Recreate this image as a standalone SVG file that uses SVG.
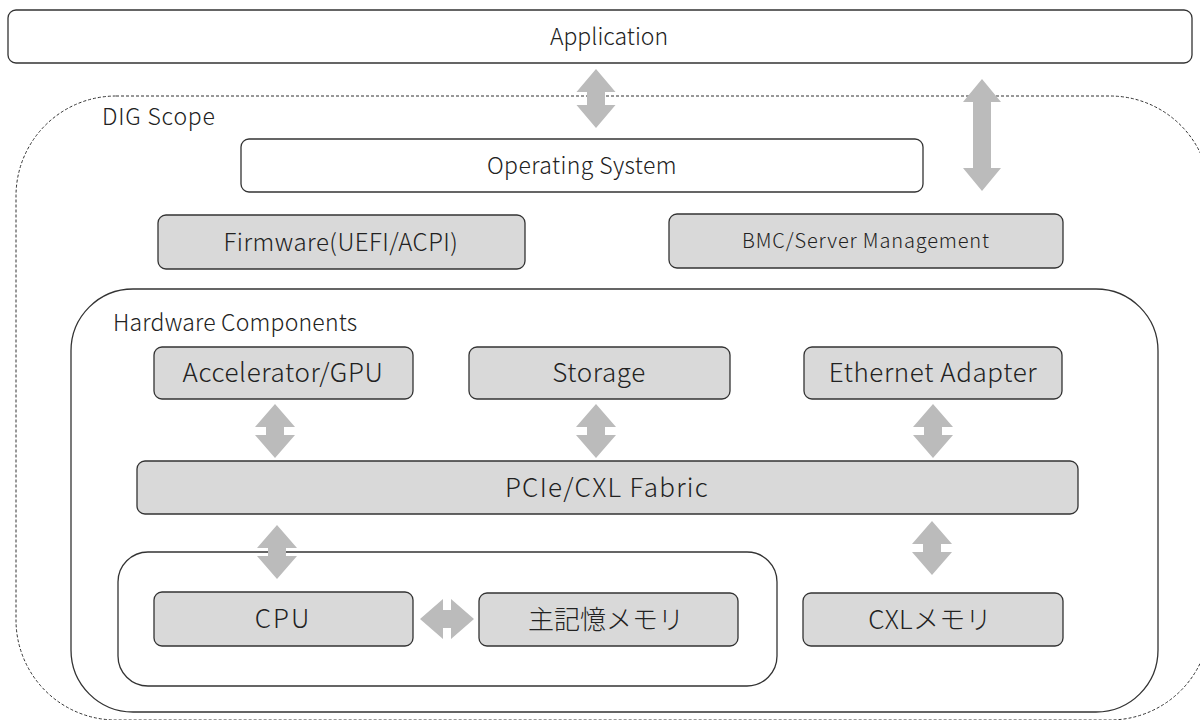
<svg xmlns="http://www.w3.org/2000/svg" width="1200" height="720" viewBox="0 0 1200 720">
<defs>
<style>
.box{fill:#d9d9d9;stroke:#333;stroke-width:1.3}
.wbox{fill:#fff;stroke:#333;stroke-width:1.3}
.frame{fill:none;stroke:#333;stroke-width:1.3}
.dash{fill:none;stroke:#333;stroke-width:1;stroke-dasharray:3 2}
.arrow{fill:#bbbbbb;stroke:none}
text{font-family:"Noto Sans CJK JP","Noto Sans",sans-serif;font-size:23px;font-weight:300;fill:#222}
.c{text-anchor:middle}
.s{font-size:20px;letter-spacing:0.85px}
.m{font-size:24px;letter-spacing:0.5px}
.L{font-size:26px;letter-spacing:0.6px}
</style>
</defs>
<rect width="1200" height="720" fill="#fff"/>
<g id="dig-scope">
<rect class="dash" x="16" y="96" width="1194" height="624" rx="100" ry="100"/>
<text x="102" y="125" style="letter-spacing:0.8px">DIG Scope</text>
</g>
<g id="application">
<rect class="wbox" x="8" y="10" width="1184" height="53" rx="8"/>
<text class="c" x="609" y="45">Application</text>
</g>
<g id="os">
<rect class="wbox" x="241" y="139" width="682" height="53" rx="8"/>
<text class="c" x="582" y="174" style="letter-spacing:0.4px">Operating System</text>
</g>
<g id="firmware">
<rect class="box" x="158" y="215" width="367" height="54" rx="8"/>
<text class="c m" x="341" y="251">Firmware(UEFI/ACPI)</text>
</g>
<g id="bmc">
<rect class="box" x="669" y="214" width="394" height="54" rx="8"/>
<text class="c s" x="866" y="248">BMC/Server Management</text>
</g>
<g id="hardware-components">
<rect class="frame" x="71" y="289" width="1087" height="423" rx="62" ry="62"/>
<text x="113" y="331" style="letter-spacing:0.2px">Hardware Components</text>
</g>
<g id="accelerator">
<rect class="box" x="154" y="347" width="259" height="52" rx="8"/>
<text class="c L" x="283" y="382">Accelerator/GPU</text>
</g>
<g id="storage">
<rect class="box" x="469" y="347" width="261" height="52" rx="8"/>
<text class="c L" x="599" y="382">Storage</text>
</g>
<g id="ethernet">
<rect class="box" x="804" y="347" width="258" height="52" rx="8"/>
<text class="c L" x="933" y="382">Ethernet Adapter</text>
</g>
<g id="fabric">
<rect class="box" x="137" y="461" width="941" height="53" rx="8"/>
<text class="c L" x="607" y="497" style="letter-spacing:1.3px">PCIe/CXL Fabric</text>
</g>
<g id="cpu-group">
<rect class="frame" x="118" y="552" width="659" height="134" rx="30" ry="30"/>
</g>
<g id="cpu">
<rect class="box" x="154" y="592" width="259" height="54" rx="8"/>
<text class="c L" x="283" y="628" style="letter-spacing:2px">CPU</text>
</g>
<g id="main-memory">
<rect class="box" x="479" y="593" width="259" height="53" rx="8"/>
<text class="c L" x="606" y="629" style="letter-spacing:0">主記憶メモリ</text>
</g>
<g id="cxl-memory">
<rect class="box" x="803" y="593" width="260" height="53" rx="8"/>
<text class="c L" x="930" y="629" style="letter-spacing:0.3px">CXLメモリ</text>
</g>
<g id="connectors">
<path class="arrow" d="M596 69 L615.5 92 L605 92 L605 105 L615.5 105 L596 128 L576.5 105 L587 105 L587 92 L576.5 92 Z"/>
<path class="arrow" d="M982 79 L1001 102 L991 102 L991 168 L1001 168 L982 191 L963 168 L973 168 L973 102 L963 102 Z"/>
<path class="arrow" d="M275 404 L295 427 L284 427 L284 435 L295 435 L275 458 L255 435 L266 435 L266 427 L255 427 Z"/>
<path class="arrow" d="M596 404 L616 427 L605 427 L605 435 L616 435 L596 458 L576 435 L587 435 L587 427 L576 427 Z"/>
<path class="arrow" d="M933 404 L953 427 L942 427 L942 435 L953 435 L933 458 L913 435 L924 435 L924 427 L913 427 Z"/>
<path class="arrow" d="M277 525 L297 548 L286 548 L286 556 L297 556 L277 579 L257 556 L268 556 L268 548 L257 548 Z"/>
<path class="arrow" d="M932 521 L952 544 L941 544 L941 552 L952 552 L932 575 L912 552 L923 552 L923 544 L912 544 Z"/>
<path class="arrow" d="M420 619 L443 599 L443 610 L451 610 L451 599 L474 619 L451 639 L451 628 L443 628 L443 639 Z"/>
</g>
</svg>
